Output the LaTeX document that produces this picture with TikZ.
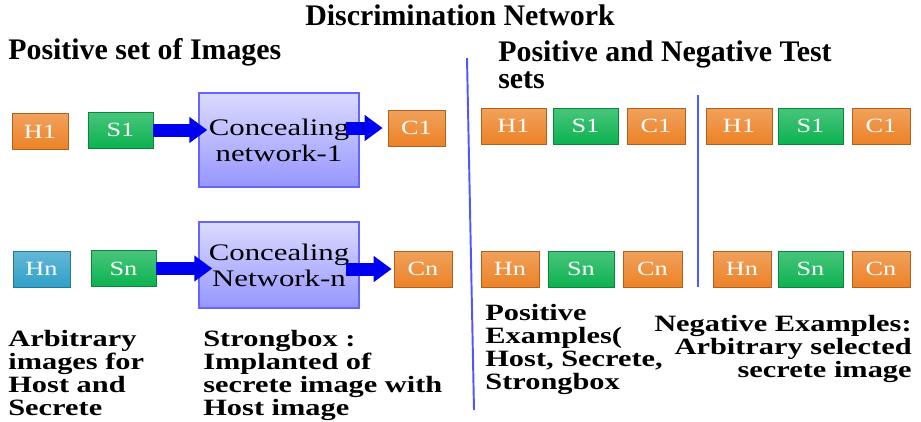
\documentclass[tikz,border=0pt]{standalone}
\usepackage{fontspec}
\setmainfont{Liberation Serif}
\newfontfamily\widefont{Liberation Serif}[FakeStretch=1.3]
\usetikzlibrary{arrows.meta}

\definecolor{tileorange}{RGB}{236,130,38}
\definecolor{tilegreen}{RGB}{12,178,80}
\definecolor{tilecyan}{RGB}{48,160,200}
\definecolor{netfill}{RGB}{150,150,255}
\definecolor{netline}{RGB}{100,100,255}
\definecolor{divblue}{RGB}{85,85,255}
\definecolor{arrowblue}{RGB}{0,0,240}

\tikzset{
  tile/.style={rectangle, minimum height=0.72cm, inner sep=0pt,
    draw=#1!75!black, top color=#1!75!white, bottom color=#1, text=white,
    font=\widefont\fontsize{11.5}{12}\selectfont},
  netbox/.style={rectangle, minimum width=3.2cm, inner sep=0pt, align=center,
    draw=netline, line width=0.8pt, top color=netfill!35!white, bottom color=netfill,
    font=\widefont\fontsize{13.5}{14.8}\selectfont},
  heading/.style={inner sep=0pt, align=left, font=\bfseries\fontsize{17}{15.5}\selectfont},
  note/.style={inner sep=0pt, font=\widefont\bfseries\fontsize{13.3}{13.1}\selectfont},
  fat arrow/.style={draw=arrowblue, line width=0.26cm,
    -{Triangle[length=0.36cm,width=0.5cm]}},
  divider/.style={draw=divblue, line width=1.1pt}
}

\begin{document}
\begin{tikzpicture}
  \useasboundingbox (0,0) rectangle (18.42,-8.42);

  % headings
  \node[heading] (title) at (9.2,-0.30) {Discrimination Network};
  \node[heading, anchor=west] (posset) at (0.16,-1.04) {Positive set of Images};
  \node[heading, anchor=north west] (testset) at (9.96,-0.80) {Positive and Negative Test\\sets};

  % concealing networks
  \node[tile=tileorange, minimum width=1.12cm] (h1) at (0.80,-2.63) {H1};
  \node[tile=tilegreen, minimum width=1.30cm] (s1) at (2.41,-2.60) {S1};
  \node[netbox, minimum height=1.88cm] (cn1) at (5.58,-2.80) {Concealing\\network-1};
  \node[tile=tileorange, minimum width=1.14cm] (c1) at (8.33,-2.56) {C1};

  \node[tile=tilecyan, minimum width=1.14cm] (hn) at (0.83,-5.38) {Hn};
  \node[tile=tilegreen, minimum width=1.30cm] (sn) at (2.47,-5.37) {Sn};
  \node[netbox, minimum height=1.72cm] (cnn) at (5.58,-5.30) {Concealing\\Network-n};
  \node[tile=tileorange, minimum width=1.16cm] (cn) at (8.46,-5.38) {Cn};

  \draw[fat arrow, shorten >=-0.18cm] (s1.east) -- (s1.east -| cn1.west);
  \draw[fat arrow, shorten <=-0.28cm, shorten >=0.1cm] (c1.west -| cn1.east) -- (c1.west);
  \draw[fat arrow, shorten >=-0.28cm] (sn.east) -- (sn.east -| cnn.west);
  \draw[fat arrow, shorten <=-0.28cm, shorten >=0.04cm] (cn.west -| cnn.east) -- (cn.west);

  % positive examples
  \node[tile=tileorange, minimum width=1.30cm] (ph1) at (10.27,-2.52) {H1};
  \node[tile=tilegreen, minimum width=1.30cm] (ps1) at (11.71,-2.52) {S1};
  \node[tile=tileorange, minimum width=1.16cm] (pc1) at (13.12,-2.52) {C1};
  \node[tile=tileorange, minimum width=1.16cm] (phn) at (10.20,-5.38) {Hn};
  \node[tile=tilegreen, minimum width=1.32cm] (psn) at (11.62,-5.38) {Sn};
  \node[tile=tileorange, minimum width=1.18cm] (pcn) at (13.05,-5.38) {Cn};

  % negative examples
  \node[tile=tileorange, minimum width=1.32cm] (nh1) at (14.78,-2.52) {H1};
  \node[tile=tilegreen, minimum width=1.30cm] (ns1) at (16.21,-2.52) {S1};
  \node[tile=tileorange, minimum width=1.16cm] (nc1) at (17.62,-2.52) {C1};
  \node[tile=tileorange, minimum width=1.16cm] (nhn) at (14.84,-5.38) {Hn};
  \node[tile=tilegreen, minimum width=1.30cm] (nsn) at (16.21,-5.38) {Sn};
  \node[tile=tileorange, minimum width=1.16cm] (ncn) at (17.62,-5.38) {Cn};

  % dividers
  \coordinate (main top) at (9.34,-1.16);
  \coordinate (main bottom) at (9.48,-8.20);
  \coordinate (test top) at (13.96,-1.90);
  \coordinate (test bottom) at (13.96,-5.74);
  \draw[divider] (main top) -- (main bottom);
  \draw[divider] (test top) -- (test bottom);

  % notes
  \node[note, anchor=north west, align=left] (hostnote) at (0.16,-6.60)
    {Arbitrary\\images for\\Host and\\Secrete};
  \node[note, anchor=north west, align=left] (boxnote) at (4.06,-6.60)
    {Strongbox :\\Implanted of\\secrete image with\\Host image};
  \node[note, anchor=north west, align=left] (posnote) at (9.70,-6.08)
    {Positive\\Examples(\\Host, Secrete,\\Strongbox};
  \node[note, anchor=north east, align=right] (negnote) at (18.24,-6.30)
    {Negative Examples:\\Arbitrary selected\\secrete image};
\end{tikzpicture}
\end{document}
